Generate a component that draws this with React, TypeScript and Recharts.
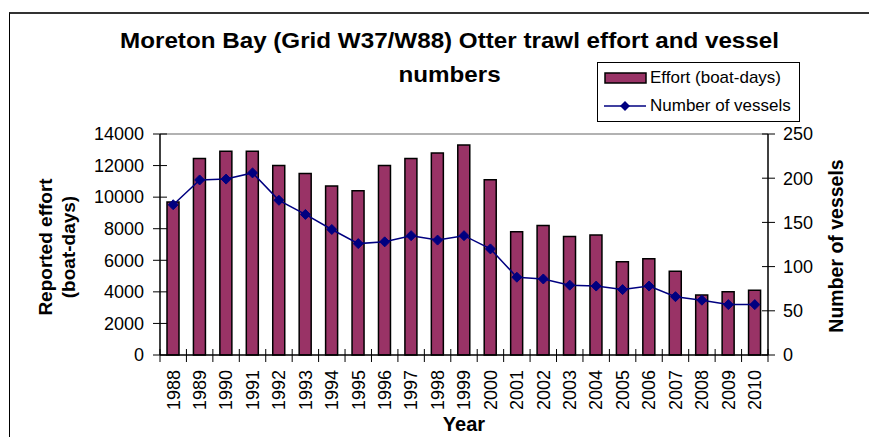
import React from "react";
import {
  ComposedChart,
  Bar,
  Line,
  XAxis,
  YAxis,
  Legend,
  ReferenceLine,
} from "recharts";

const years = [
  "1988", "1989", "1990", "1991", "1992", "1993", "1994", "1995",
  "1996", "1997", "1998", "1999", "2000", "2001", "2002", "2003",
  "2004", "2005", "2006", "2007", "2008", "2009", "2010",
];
const effort = [
  9700, 12450, 12900, 12900, 12000, 11500, 10700, 10400, 12000, 12450, 12800,
  13300, 11100, 7800, 8200, 7500, 7600, 5900, 6100, 5300, 3800, 4000, 4100,
];
const vessels = [
  170, 198, 199, 206, 175, 159, 142, 126, 128, 135, 130, 135, 120, 88, 86, 79,
  78, 74, 78, 66, 62, 57, 57,
];
const effortTicks = [0, 2000, 4000, 6000, 8000, 10000, 12000, 14000];
const vesselTicks = [0, 50, 100, 150, 200, 250];

const FONT = 'Arial, "Liberation Sans", sans-serif';
const BAR_FILL = "#993366";
const NAVY = "#000080";

// plot box in page pixels
const W = 869;
const H = 437;
const LEFT = 160;
const RIGHT = 768;
const TOP = 134;
const BOTTOM = 355;
const BAND = (RIGHT - LEFT) / years.length;

const data = years.map((year, i) => ({
  year,
  effort: effort[i],
  vessels: vessels[i],
}));

// Excel style "cross" tick marks, so ticks are drawn by hand
const LeftTick = (props: any) => (
  <g>
    <line x1={LEFT - 7} x2={LEFT + 7} y1={props.y} y2={props.y} stroke="#000" />
    <text x={LEFT - 16} y={props.y} dy="0.35em" textAnchor="end" fontSize={18} fontFamily={FONT} fill="#000">
      {props.payload.value}
    </text>
  </g>
);

const RightTick = (props: any) => (
  <g>
    <line x1={RIGHT - 6} x2={RIGHT + 7} y1={props.y} y2={props.y} stroke="#000" />
    <text x={RIGHT + 15} y={props.y} dy="0.35em" textAnchor="start" fontSize={18} fontFamily={FONT} fill="#000">
      {props.payload.value}
    </text>
  </g>
);

const YearTick = (props: any) => {
  const { x, index } = props;
  const edge = x - BAND / 2;
  return (
    <g>
      <line x1={edge} x2={edge} y1={BOTTOM - 6} y2={BOTTOM + 7} stroke="#000" />
      {index === years.length - 1 && (
        <line x1={x + BAND / 2} x2={x + BAND / 2} y1={BOTTOM - 6} y2={BOTTOM + 7} stroke="#000" />
      )}
      <text
        x={x}
        y={BOTTOM + 15}
        dy="0.35em"
        textAnchor="end"
        fontSize={18}
        fontFamily={FONT}
        fill="#000"
        transform={`rotate(-90 ${x} ${BOTTOM + 15})`}
      >
        {props.payload.value}
      </text>
    </g>
  );
};

const Diamond = (props: any) => {
  const { cx, cy } = props;
  if (cx == null || cy == null) return null;
  const r = 5;
  return (
    <polygon
      points={`${cx},${cy - r} ${cx + r},${cy} ${cx},${cy + r} ${cx - r},${cy}`}
      fill={NAVY}
      stroke={NAVY}
    />
  );
};

const LegendBox = () => (
  <div
    style={{
      width: 203,
      height: 60,
      border: "1px solid #000",
      background: "#fff",
      fontFamily: FONT,
      fontSize: 17,
      boxSizing: "border-box",
      whiteSpace: "nowrap",
    }}
  >
    <div style={{ display: "flex", alignItems: "center", height: 30, paddingLeft: 6 }}>
      <svg width={44} height={14}>
        <rect x={1} y={2} width={41} height={10} fill={BAR_FILL} stroke="#000" strokeWidth={1.5} />
      </svg>
      <span style={{ marginLeft: 2 }}>Effort (boat-days)</span>
    </div>
    <div style={{ display: "flex", alignItems: "center", height: 26, paddingLeft: 6 }}>
      <svg width={44} height={14}>
        <line x1={0} x2={42} y1={7} y2={7} stroke={NAVY} strokeWidth={1.5} />
        <polygon points="21,2 26,7 21,12 16,7" fill={NAVY} />
      </svg>
      <span style={{ marginLeft: 2 }}>Number of vessels</span>
    </div>
  </div>
);

export default function App() {
  return (
    <div
      style={{
        position: "absolute",
        left: 0,
        top: 0,
        width: W,
        height: H,
        background: "#fff",
        overflow: "hidden",
        fontFamily: FONT,
      }}
    >
      {/* chart frame, its right and bottom edges fall outside the picture */}
      <div
        style={{
          position: "absolute",
          left: 9,
          top: 12,
          width: W,
          height: H,
          borderLeft: "1.5px solid #000",
          borderTop: "2px solid #333",
        }}
      />
      <div
        style={{
          position: "absolute",
          left: 449 - W / 2,
          top: 24,
          width: W,
          textAlign: "center",
          fontSize: 22,
          fontWeight: "bold",
          lineHeight: "34px",
          transform: "scaleX(1.1)",
        }}
      >
        Moreton Bay (Grid W37/W88) Otter trawl effort and vessel
        <br />
        numbers
      </div>
      <div style={{ position: "absolute", left: 0, top: 0 }}>
        <ComposedChart
          width={W}
          height={H}
          data={data}
          margin={{ top: TOP, left: LEFT - 70, right: W - RIGHT - 60, bottom: H - BOTTOM - 70 }}
          barSize={12}
        >
          <XAxis
            dataKey="year"
            height={70}
            interval={0}
            tickLine={false}
            axisLine={{ stroke: "#000", strokeWidth: 1.5 }}
            tick={<YearTick />}
            label={{
              content: () => (
                <text x={(LEFT + RIGHT) / 2} y={431} textAnchor="middle" fontSize={20} fontWeight="bold" fontFamily={FONT} fill="#000">
                  Year
                </text>
              ),
            }}
          />
          <YAxis
            yAxisId="left"
            width={70}
            domain={[0, 14000]}
            ticks={effortTicks}
            interval={0}
            tickLine={false}
            axisLine={{ stroke: "#000", strokeWidth: 1.5 }}
            tick={<LeftTick />}
            label={{
              content: () => (
                <text
                  x={0}
                  y={0}
                  textAnchor="middle"
                  fontSize={19}
                  fontWeight="bold"
                  fontFamily={FONT}
                  fill="#000"
                  transform="translate(45 247) rotate(-90)"
                >
                  <tspan x={0} dy="0.35em">Reported effort</tspan>
                  <tspan x={0} dy="23">(boat-days)</tspan>
                </text>
              ),
            }}
          />
          <YAxis
            yAxisId="right"
            orientation="right"
            width={60}
            domain={[0, 250]}
            ticks={vesselTicks}
            interval={0}
            tickLine={false}
            axisLine={{ stroke: "#000", strokeWidth: 1.5 }}
            tick={<RightTick />}
            label={{
              content: () => (
                <text
                  x={0}
                  y={0}
                  dy="0.35em"
                  textAnchor="middle"
                  fontSize={19.5}
                  fontWeight="bold"
                  fontFamily={FONT}
                  fill="#000"
                  transform="translate(836 246) rotate(-90)"
                >
                  Number of vessels
                </text>
              ),
            }}
          />
          <ReferenceLine yAxisId="left" y={14000} stroke="#999" strokeWidth={1.5} />
          <Legend
            layout="vertical"
            align="center"
            verticalAlign="middle"
            content={<LegendBox />}
            wrapperStyle={{ position: "absolute", left: 597, top: 62, width: 203, height: 60 }}
          />
          <Bar
            yAxisId="left"
            dataKey="effort"
            name="Effort (boat-days)"
            fill={BAR_FILL}
            stroke="#000"
            strokeWidth={1.5}
            isAnimationActive={false}
          />
          <Line
            yAxisId="right"
            dataKey="vessels"
            name="Number of vessels"
            type="linear"
            stroke={NAVY}
            strokeWidth={1.5}
            dot={<Diamond />}
            activeDot={false}
            isAnimationActive={false}
          />
        </ComposedChart>
      </div>
    </div>
  );
}
